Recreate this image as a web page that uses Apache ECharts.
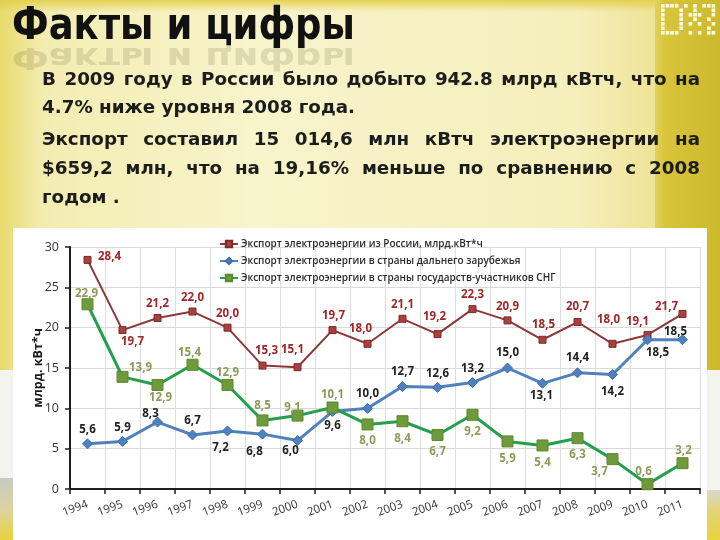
<!DOCTYPE html>
<html><head><meta charset="utf-8">
<script src="https://cdn.jsdelivr.net/npm/echarts@6/dist/echarts.min.js"></script>
<style>html,body{margin:0;padding:0;width:720px;height:540px;overflow:hidden;background:#fff}#c{width:720px;height:540px}</style>
</head><body><div id="c"></div><script>
// ---------- data ----------
const categories = ['1994','1995','1996','1997','1998','1999','2000','2001','2002','2003','2004','2005','2006','2007','2008','2009','2010','2011'];
const exportTotal = [28.4,19.7,21.2,22.0,20.0,15.3,15.1,19.7,18.0,21.1,19.2,22.3,20.9,18.5,20.7,18.0,19.1,21.7];
const exportFar   = [5.6,5.9,8.3,6.7,7.2,6.8,6.0,9.6,10.0,12.7,12.6,13.2,15.0,13.1,14.4,14.2,18.5,18.5];
const exportCis   = [22.9,13.9,12.9,15.4,12.9,8.5,9.1,10.1,8.0,8.4,6.7,9.2,5.9,5.4,6.3,3.7,0.6,3.2];
const seriesNames = [
  'Экспорт электроэнергии из России, млрд.кВт*ч',
  'Экспорт электроэнергии в страны дальнего зарубежья',
  'Экспорт электроэнергии в страны государств-участников СНГ'
];
const yMin = 0, yMax = 30, yStep = 5;
const yAxisName = 'млрд. кВт*ч';
const titleText = 'Факты и цифры';
const paragraphLines = [
  {text: 'В 2009 году в России было добыто 942.8 млрд кВтч, что на', justify: true},
  {text: '4.7% ниже уровня 2008 года.', justify: false},
  {text: 'Экспорт составил 15 014,6 млн кВтч электроэнергии на', justify: true},
  {text: '$659,2 млн, что на 19,16% меньше по сравнению с 2008', justify: true},
  {text: 'годом .', justify: false}
];

// ---------- layout (label offsets, px) ----------
const totalLabelOffsets = [[22,-3],[10,12],[0,-14],[0,-14],[0,-14],[4,-15],[-5,-17],[1,-14],[-7,-15],[0,-14],[-3,-17],[0,-14],[0,-14],[1,-15],[0,-15],[-4,-24],[-10,-13],[-16,-7]];
const farLabelOffsets   = [[0,-14],[0,-14],[-7,-8],[0,-14],[-7,17],[-8,18],[-7,10],[0,14],[0,-15],[0,-15],[0,-14],[0,-14],[0,-15],[-1,12],[0,-15],[0,17],[10,13],[-7,-8]];
const cisLabelOffsets   = [[-1,-11],[18,-9],[3,13],[-3,-12],[0,-12],[0,-15],[-5,-8],[0,-13],[0,16],[0,17],[0,17],[0,17],[0,17],[0,17],[0,17],[-13,13],[-4,-12],[1,-12]];

const fmt = v => v.toFixed(1).replace('.', ',');
const chart = echarts.init(document.getElementById('c'), null, {renderer: 'canvas'});

// ---------- text measurement ----------
const mctx = document.createElement('canvas').getContext('2d');
function measure(font, s){ mctx.font = font; return mctx.measureText(s).width; }

const graphics = [];
// background
graphics.push({type:'rect', z:-10, shape:{x:0,y:0,width:720,height:540}, style:{fill:'#f6f0bf'}});
graphics.push({type:'rect', z:-10, shape:{x:0,y:0,width:720,height:370}, style:{fill:new echarts.graphic.LinearGradient(0,0,1,0,[
  {offset:0,color:'#e8da6c'},{offset:0.06,color:'#f3ecb2'},{offset:0.35,color:'#f8f4cb'},{offset:0.8,color:'#f5efbc'},{offset:0.9,color:'#efe49a'},{offset:1,color:'#e9dc7c'}])}});
graphics.push({type:'rect', z:-10, shape:{x:0,y:0,width:720,height:12}, style:{fill:new echarts.graphic.LinearGradient(0,0,0,1,[
  {offset:0,color:'rgba(226,206,70,0.9)'},{offset:1,color:'rgba(226,206,70,0)'}])}});
graphics.push({type:'rect', z:-10, shape:{x:655,y:0,width:65,height:370}, style:{fill:new echarts.graphic.LinearGradient(0,0,1,0,[
  {offset:0,color:'#e2d25e'},{offset:0.15,color:'#d8c53c'},{offset:1,color:'#cdb92c'}])}});
graphics.push({type:'rect', z:-10, shape:{x:0,y:370,width:720,height:170}, style:{fill:'#f4f4ef'}});
graphics.push({type:'rect', z:-10, shape:{x:0,y:478,width:13,height:62}, style:{fill:new echarts.graphic.LinearGradient(0,0,0,1,[
  {offset:0,color:'#c9c9c2'},{offset:0.5,color:'#ddd3a0'},{offset:1,color:'#e6d33c'}])}});
graphics.push({type:'rect', z:-10, shape:{x:707,y:490,width:13,height:50}, style:{fill:new echarts.graphic.LinearGradient(0,0,0,1,[
  {offset:0,color:'#d8d8cf'},{offset:0.4,color:'#e3d37a'},{offset:1,color:'#e8d43a'}])}});
// white chart panel
graphics.push({type:'rect', z:-9, shape:{x:13,y:228,width:694,height:312}, style:{fill:'#ffffff'}});

// logo (pixel pattern)
const logoRows = [
  '####.#.#.###',
  '#...#..#...#',
  '#...#.###..#',
  '#...#..#..#.',
  '#...#.#.#..#',
  '#...#.....#.',
  '####..#.#.##'
];
logoRows.forEach((row, r) => {
  for (let c = 0; c < row.length; c++) {
    if (row[c] === '#') graphics.push({type:'rect', z:-8, shape:{x:661 + c*4.6, y:4 + r*4.5, width:3.6, height:3.6}, style:{fill:'#fffbe2'}});
  }
});

// title + reflection
const titleFont = 'bold 38px "DejaVu Sans"';
const titleW = measure(titleFont, titleText);
const titleSx = 343 / titleW;
graphics.push({type:'text', z:-5, x:12, y:45, scaleX:titleSx, scaleY:-0.8, style:{text:titleText, font:titleFont, fill:'rgba(70,65,30,0.15)', x:0, y:-14, verticalAlign:'middle', align:'left'}});
graphics.push({type:'text', z:-4, x:12, y:44, scaleX:titleSx, scaleY:1.18, style:{text:titleText, font:titleFont, fill:'#111111', x:0, y:-14, verticalAlign:'middle', align:'left'}});

// paragraph (justified)
const pFont = 'bold 18px "DejaVu Sans"';
const refLineW = 313;
const pSx = refLineW / measure(pFont, paragraphLines[1].text);
const lineYs = [80, 108, 140, 169, 198];
const pLeft = 42, pRight = 700;
paragraphLines.forEach((ln, i) => {
  const words = ln.text.split(' ');
  const ws = words.map(w => measure(pFont, w) * pSx);
  const sum = ws.reduce((a,b)=>a+b,0);
  const gap = ln.justify ? (pRight - pLeft - sum) / (words.length - 1) : measure(pFont, ' ') * pSx;
  let x = pLeft;
  words.forEach((w, k) => {
    graphics.push({type:'text', z:-3, x:x, y:lineYs[i], scaleX:pSx, style:{text:w, font:pFont, fill:'#1c1c1c', x:0, y:0, verticalAlign:'middle', align:'left'}});
    x += ws[k] + gap;
  });
});

function mkSeries(name, values, offsets, o) {
  return {
    type: 'line', name: name,
    data: values.map((v, i) => ({value: v, label: {offset: offsets[i]}})),
    symbol: o.symbol, symbolSize: o.size, showAllSymbol: true,
    itemStyle: {color: o.marker, borderColor: o.border, borderWidth: 1},
    lineStyle: {color: o.line, width: o.width},
    label: {show: true, position: 'inside', formatter: p => fmt(p.value), color: o.labelColor,
            fontSize: 11.5, fontWeight: 'bold', fontFamily: '"Open Sans", sans-serif'},
    emphasis: {disabled: true}, animation: false, z: o.z
  };
}

const option = {
  animation: false,
  backgroundColor: 'transparent',
  graphic: {elements: graphics},
  legend: {
    orient: 'vertical', left: 214, top: 234, itemGap: 7, itemWidth: 18, itemHeight: 8,
    data: seriesNames,
    textStyle: {fontSize: 10, fontWeight: 600, color: '#2a2a2a', fontFamily: '"Open Sans", sans-serif', padding: [0,0,0,-2]},
    selectedMode: false
  },
  grid: {left: 70, right: 20, top: 247, bottom: 51, containLabel: false},
  xAxis: {
    type: 'category', data: categories, boundaryGap: true,
    axisLine: {show: true, lineStyle: {color: '#1e1e1e', width: 2}},
    axisTick: {show: true, interval: 0, length: 5, lineStyle: {color: '#1e1e1e', width: 1.5}},
    axisLabel: {interval: 0, rotate: 20, fontSize: 11.5, color: '#333', margin: 15, fontFamily: '"Open Sans", sans-serif'},
    splitLine: {show: true, interval: 0, lineStyle: {color: '#dedede', width: 1}}
  },
  yAxis: {
    type: 'value', min: yMin, max: yMax, interval: yStep,
    name: yAxisName, nameLocation: 'middle', nameGap: 25, nameRotate: 90, nameMoveOverlap: false,
    nameTextStyle: {fontSize: 12.5, fontWeight: 'bold', color: '#1a1a1a', fontFamily: '"Open Sans", sans-serif'},
    axisLine: {show: true, lineStyle: {color: '#1e1e1e', width: 2}},
    axisTick: {show: true, length: 5, lineStyle: {color: '#1e1e1e', width: 1.5}},
    axisLabel: {fontSize: 12.5, color: '#333', margin: 11, fontFamily: '"Open Sans", sans-serif'},
    splitLine: {show: true, lineStyle: {color: '#d9d9d9', width: 1}}
  },
  series: [
    mkSeries(seriesNames[0], exportTotal, totalLabelOffsets, {symbol:'rect', size:7, marker:'#a8403f', border:'#7d2a2a', line:'#8c3838', width:2, labelColor:'#a1262a', z:3}),
    mkSeries(seriesNames[1], exportFar, farLabelOffsets, {symbol:'diamond', size:10, marker:'#4f81bd', border:'#3f6fa8', line:'#4f81bd', width:3, labelColor:'#222', z:4}),
    mkSeries(seriesNames[2], exportCis, cisLabelOffsets, {symbol:'rect', size:11, marker:'#6f9a3c', border:'#5d8630', line:'#22a04a', width:3, labelColor:'#8d9a58', z:5})
  ]
};
chart.setOption(option);
</script></body></html>
